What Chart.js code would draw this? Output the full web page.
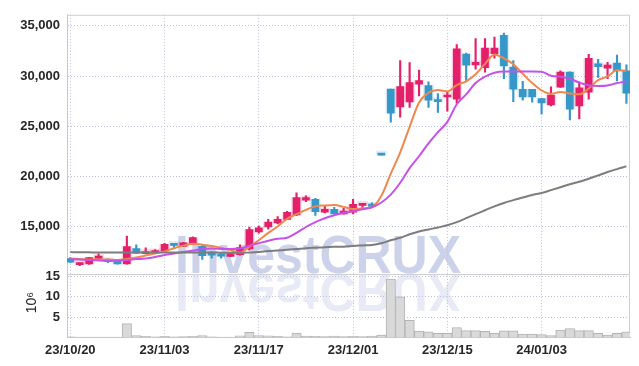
<!DOCTYPE html>
<html>
<head>
<meta charset="utf-8">
<script src="https://cdn.jsdelivr.net/npm/chart.js@4.4.1/dist/chart.umd.min.js"></script>
<style>
  html, body { margin: 0; padding: 0; background: #fff; }
  #wrap { width: 639px; height: 366px; }
</style>
</head>
<body>
<div id="wrap"><canvas id="myChart"></canvas></div>
<script>
const ctx = document.getElementById('myChart');

// trading days
const dates = ['23/10/20','23/10/23','23/10/24','23/10/25','23/10/26','23/10/27','23/10/30','23/10/31','23/11/01','23/11/02',
  '23/11/03','23/11/06','23/11/07','23/11/08','23/11/09','23/11/10','23/11/13','23/11/14','23/11/15','23/11/16',
  '23/11/17','23/11/20','23/11/21','23/11/22','23/11/23','23/11/24','23/11/27','23/11/28','23/11/29','23/11/30',
  '23/12/01','23/12/04','23/12/05','23/12/06','23/12/07','23/12/08','23/12/11','23/12/12','23/12/13','23/12/14',
  '23/12/15','23/12/18','23/12/19','23/12/20','23/12/21','23/12/22','23/12/26','23/12/27','23/12/28','24/01/02',
  '24/01/03','24/01/04','24/01/05','24/01/08','24/01/09','24/01/10','24/01/11','24/01/12','24/01/15','24/01/16'];

const openP  = [11790,11180,11240,11790,11700,11500,11240,12780,12280,12350, 12550,13200,13000,13240,13000,12250,12160,11990,12160,12750,
  14440,14930,15350,15690,16140,17610,17680,16400,16700,16240, 16400,17090,17220,22100,28700,26920,27410,29180,29050,27580,
  27900,27700,32190,31110,30840,32220,34050,30880,28660,28660, 27750,27120,28880,30390,27020,28390,31210,30780,31280,30520];
const highP  = [11890,11340,11900,12250,11750,11520,14020,13140,12840,12670, 13310,13220,13410,13950,13070,12480,12310,12280,13140,14930,
  15030,15690,15980,16500,18330,18040,17780,16990,16890,16790, 17680,17280,17350,22100,28700,31530,31330,30590,29410,28240,
  28360,33140,32280,33730,33730,33880,34280,31530,29470,28660, 27770,28920,30520,30420,29410,32160,31670,31370,32090,31110];
const lowP   = [11400,11080,11200,11760,11370,11230,11210,12300,12240,12320, 12500,12900,12970,13200,11700,11820,11820,11960,12120,12630,
  14310,14710,15250,15650,16060,17450,16080,16330,16200,16200, 16240,16670,16890,22100,25390,25880,26860,28000,26860,26370,
  26500,27260,29400,30690,30390,31770,29740,27450,27580,27380, 26210,27020,28850,25620,25720,27680,29860,29740,29500,27260];
const closeP = [11430,11330,11890,12020,11470,11240,12970,12310,12480,12580, 13200,13100,13360,13880,12060,12120,12020,12250,12870,14670,
  14860,15420,15690,16400,17870,17870,16470,16700,16240,16530, 17190,17220,16990,22100,26300,28950,29340,29540,27580,27450,
  28070,32710,31090,31370,32780,32780,31010,28690,27900,27900, 27310,28100,30390,26700,28820,31770,30940,31080,30520,28290];

// volume, millions of shares
const volume = [0.15,0.1,0.12,0.1,0.08,0.1,3.4,0.5,0.3,0.15, 0.3,0.15,0.2,0.3,0.5,0.15,0.1,0.12,0.4,1.25,
  0.5,0.4,0.3,0.15,1.1,0.35,0.3,0.2,0.35,0.2, 0.3,0.2,0.35,0.6,14.3,10.0,4.2,1.6,1.4,1.0,
  1.0,2.45,1.7,1.7,1.5,1.0,1.65,1.65,0.85,0.85, 0.7,0.5,1.8,2.2,1.7,1.7,1.0,0.6,1.0,1.4];

// moving averages
const ma5 = [11765,11745,11696,11696,11696,11647,11745,11892,12088,12284, 12500,12804,13069,13265,13167,13039,12873,12627,12382,12971,
  13608,14343,14980,15745,16206,16647,16990,17088,17118,16941, 16725,16794,16892,18039,20260,22380,24930,27353,28333,28608,
  28461,29098,29471,30176,31206,32157,31765,31176,30225,29294, 28559,28216,28412,28265,28167,28755,29588,29961,30569,30520];
const ma20 = [11725,11696,11647,11598,11569,11569,11647,11725,11794,11941, 12137,12284,12431,12578,12745,12775,12745,12725,12775,13069,
  13314,13559,13755,13853,14340,14930,15420,15810,16110,16350, 16500,16700,16890,17380,18167,19343,20814,21990,23265,24402,
  25422,27186,28167,29294,29931,30324,30451,30451,30451,30451, 30422,30029,29931,29735,29343,29078,29000,29049,29294,29471];
const maLong = [12430,12410,12400,12380,12380,12380,12380,12380,12380,12380, 12380,12380,12380,12380,12380,12380,12370,12360,12350,12380,
  12430,12530,12580,12650,12730,12820,12870,12920,12950,12970, 13040,13090,13140,13310,13610,13850,14200,14490,14690,14880,
  15100,15420,15810,16210,16600,16990,17330,17610,17870,18120, 18330,18610,18900,19200,19440,19740,20080,20420,20710,20980];

const priceTicks = [15000, 20000, 25000, 30000, 35000];
const volTicks = [5, 10, 15];
const dateTicks = [0, 10, 20, 30, 40, 50];

const up = '#e5206b', down = '#3697c9';
const upHalo = 'rgba(229,32,107,0.16)', downHalo = 'rgba(54,151,201,0.16)';
const isUp = closeP.map((c, i) => c > openP[i]);
const cColor = isUp.map(u => u ? up : down);
const hColor = isUp.map(u => u ? upHalo : downHalo);

const gridColor = '#bcc2da';
const tickFont = { family: '"Liberation Sans", Arial, sans-serif', weight: 'bold', size: 13 };
const tickColor = '#262626';

const xy = (arr) => arr.map((v, i) => ({ x: i, y: v }));

const watermark = {
  id: 'watermark',
  beforeDatasetsDraw(chart) {
    const c = chart.ctx;
    const ys = chart.scales.y;
    const base = ys.bottom;
    const txt = 'InvestCRUX';
    c.save();
    c.font = 'bold 54px "Liberation Sans", Arial, sans-serif';
    const w = c.measureText(txt).width;
    c.translate(175, base - 0.5);
    c.scale(286 / w, 1);
    c.fillStyle = 'rgba(184,193,224,0.72)';
    c.fillText(txt, 0, 0);
    c.scale(1, -1);
    c.fillStyle = 'rgba(184,193,224,0.32)';
    c.fillText(txt, 0, -1);
    c.restore();

    // frame
    const a = chart.chartArea;
    c.save();
    c.strokeStyle = '#cfcfcf';
    c.lineWidth = 1;
    c.beginPath();
    c.moveTo(a.left, a.top + 0.5); c.lineTo(a.right, a.top + 0.5);
    c.moveTo(a.right - 0.5, a.top); c.lineTo(a.right - 0.5, a.bottom);
    c.moveTo(a.left, Math.round(base) + 0.5); c.lineTo(a.right, Math.round(base) + 0.5);
    c.stroke();
    c.restore();
  },
  afterDraw(chart) {
    const c = chart.ctx;
    const yv = chart.scales.yv;
    c.save();
    c.translate(32, (yv.top + yv.bottom) / 2 - 3);
    c.rotate(-Math.PI / 2);
    c.fillStyle = tickColor;
    c.textAlign = 'center';
    c.textBaseline = 'middle';
    c.font = '14px "Liberation Sans", Arial, sans-serif';
    c.fillText('10⁶', 0, 0);
    c.restore();
  }
};

new Chart(ctx, {
  data: {
    datasets: [
      { type: 'line', data: xy(maLong), borderColor: '#7d7d7d', borderWidth: 2, pointRadius: 0,
        cubicInterpolationMode: 'monotone', yAxisID: 'y', order: 0 },
      { type: 'line', data: xy(ma20), borderColor: '#c651ea', borderWidth: 2, pointRadius: 0,
        cubicInterpolationMode: 'monotone', yAxisID: 'y', order: 0 },
      { type: 'line', data: xy(ma5), borderColor: '#f0874c', borderWidth: 2, pointRadius: 0,
        cubicInterpolationMode: 'monotone', yAxisID: 'y', order: 0 },
      { type: 'bar', data: openP.map((o, i) => ({ x: i, y: [o, closeP[i]] })), backgroundColor: cColor,
        barThickness: 7, minBarLength: 2, grouped: false, yAxisID: 'y', order: 2 },
      { type: 'bar', data: lowP.map((l, i) => ({ x: i, y: [l, highP[i]] })), backgroundColor: cColor,
        barThickness: 1.5, grouped: false, yAxisID: 'y', order: 3 },
      { type: 'bar', data: openP.map((o, i) => ({ x: i, y: [o, closeP[i]] })), backgroundColor: hColor,
        barThickness: 10, minBarLength: 4, grouped: false, yAxisID: 'y', order: 4 },
      { type: 'bar', data: xy(volume), backgroundColor: '#d9d9d9', borderColor: '#b3b3b3', borderWidth: 1,
        barPercentage: 1, categoryPercentage: 1, grouped: false, yAxisID: 'yv', order: 5 }
    ]
  },
  options: {
    responsive: true,
    maintainAspectRatio: false,
    animation: false,
    devicePixelRatio: 1,
    events: [],
    layout: { padding: { top: 9, right: 9, left: 0, bottom: 0 } },
    plugins: { legend: { display: false }, tooltip: { enabled: false } },
    scales: {
      x: {
        type: 'linear', min: -0.35, max: 59.38, offset: false,
        afterBuildTicks: s => { s.ticks = dateTicks.map(v => ({ value: v })); },
        afterFit: s => { s.height = 28.5; },
        ticks: { callback: v => dates[v], font: tickFont, color: tickColor, padding: 5, maxRotation: 0, autoSkip: false },
        grid: { color: gridColor, drawTicks: false, offset: false },
        border: { color: '#c8c8c8', dash: [1, 2] }
      },
      yv: {
        type: 'linear', position: 'left', stack: 'main', stackWeight: 65, weight: 1,
        min: 0, max: 15.66,
        afterBuildTicks: s => { s.ticks = volTicks.map(v => ({ value: v })); },
        afterFit: s => { s.width = 67; },
        ticks: { font: tickFont, color: tickColor, padding: 7, autoSkip: false },
        grid: { color: gridColor, drawTicks: false },
        border: { color: '#c8c8c8', dash: [1, 2] }
      },
      y: {
        type: 'linear', position: 'left', stack: 'main', stackWeight: 263.5, weight: 2,
        min: 10275, max: 36108,
        afterBuildTicks: s => { s.ticks = priceTicks.map(v => ({ value: v })); },
        afterFit: s => { s.width = 67; },
        ticks: { callback: v => v.toLocaleString('en-US'), font: tickFont, color: tickColor, padding: 7, autoSkip: false },
        grid: { color: gridColor, drawTicks: false },
        border: { color: '#c8c8c8', dash: [1, 2] }
      }
    }
  },
  plugins: [watermark]
});
</script>
</body>
</html>
